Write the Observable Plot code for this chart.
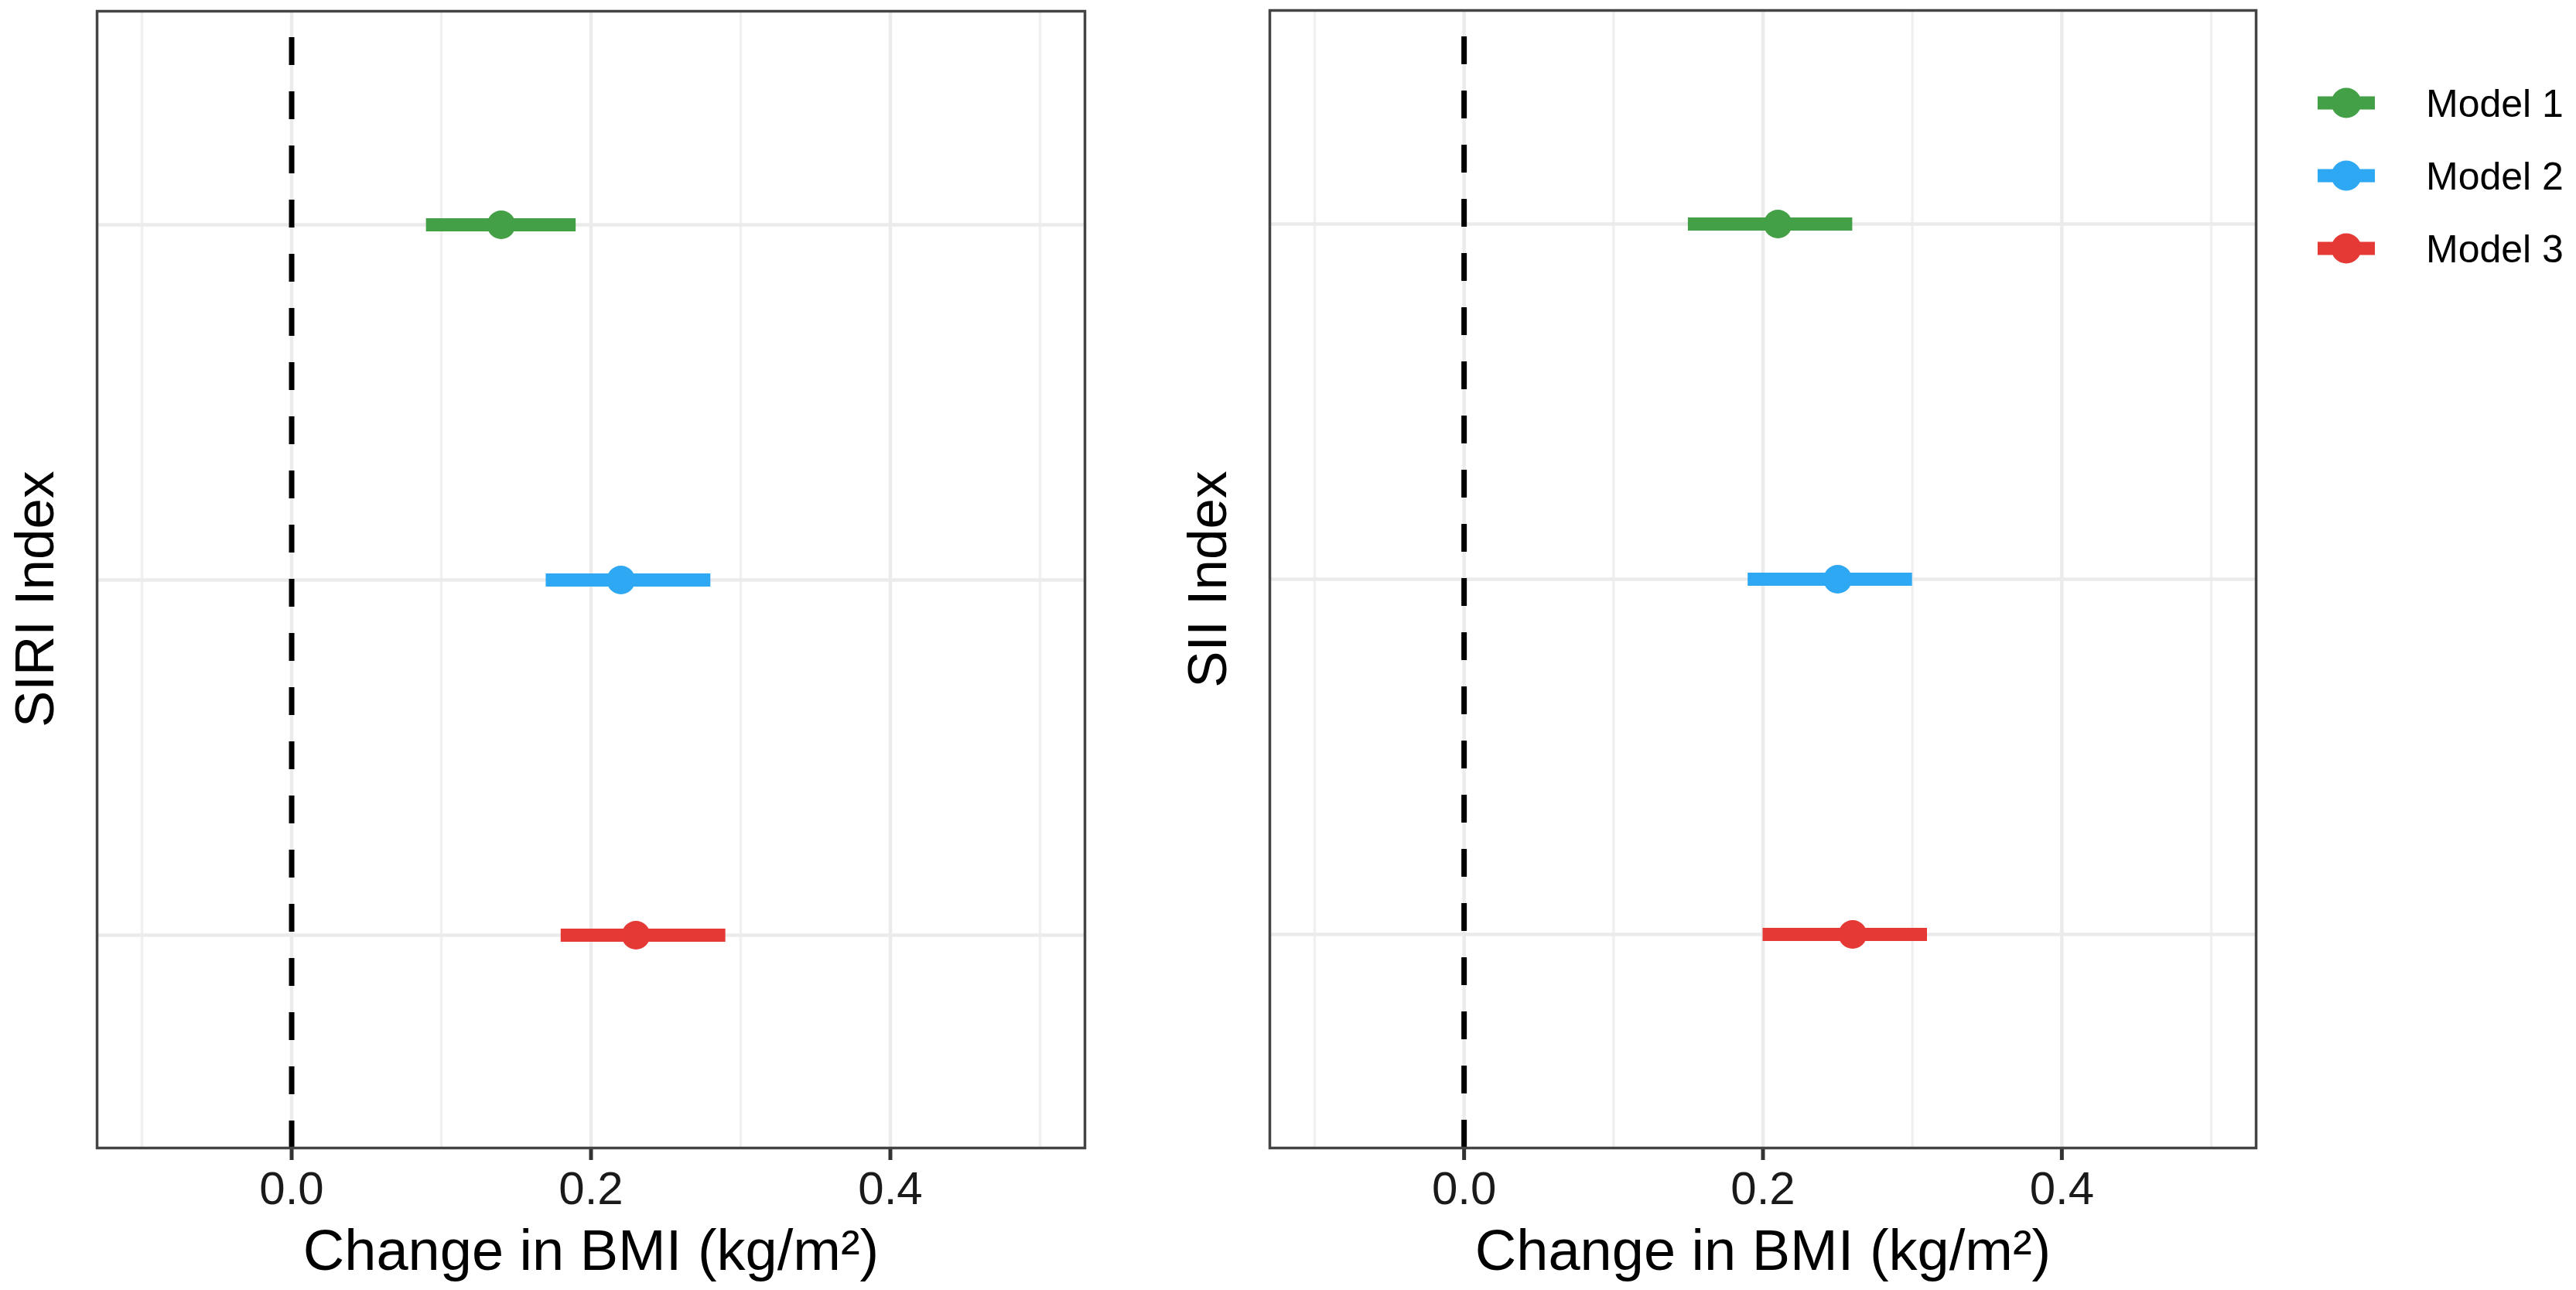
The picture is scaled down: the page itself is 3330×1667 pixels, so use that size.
<!DOCTYPE html>
<html>
<head>
<meta charset="utf-8">
<script src="https://cdn.jsdelivr.net/npm/d3@7"></script>
<script src="https://cdn.jsdelivr.net/npm/@observablehq/plot@0.6"></script>
<style>
html, body { margin: 0; padding: 0; background: #fff; }
#root { position: relative; width: 3330px; height: 1667px; overflow: hidden; background: #fff;
  font-family: "Liberation Sans", Arial, Helvetica, sans-serif; }
.panel { position: absolute; top: 0; }
#legend { position: absolute; left: 2950px; top: 80px; }
</style>
</head>
<body>
<div id="root"></div>
<script>
// ---- data ----
const models = ["Model 1", "Model 2", "Model 3"];
const colors = ["#43A047", "#2FA8F4", "#E53935"];
const siriEst = [0.14, 0.22, 0.23];
const siriLo  = [0.09, 0.17, 0.18];
const siriHi  = [0.19, 0.28, 0.29];
const siiEst  = [0.21, 0.25, 0.26];
const siiLo   = [0.15, 0.19, 0.20];
const siiHi   = [0.26, 0.30, 0.31];
const xTicks = [0, 0.2, 0.4];
const xMinor = [-0.1, 0.1, 0.3, 0.5];
const xDomain = [-0.13, 0.53];
const xTitle = "Change in BMI (kg/m²)";
const yTitles = ["SIRI Index", "SII Index"];

const FONT = '"Liberation Sans", Arial, Helvetica, sans-serif';
const root = document.getElementById("root");

function panel(est, lo, hi, yTitle, cfg) {
  const data = models.map((m, i) => ({model: m, est: est[i], lo: lo[i], hi: hi[i]}));
  const p = Plot.plot({
    width: cfg.width,
    height: 1667,
    marginLeft: cfg.marginLeft,
    marginRight: cfg.marginRight,
    marginTop: cfg.marginTop,
    marginBottom: 184,
    style: {fontFamily: FONT, fontSize: "60px", color: "#1a1a1a", background: "white", overflow: "visible"},
    x: {domain: xDomain, ticks: xTicks, tickFormat: d3.format(".1f"), tickSize: 16, tickPadding: 14, label: null},
    y: {type: "point", domain: models, padding: 0.6, axis: null},
    color: {type: "ordinal", domain: models, range: colors},
    marks: [
      Plot.ruleX(xMinor, {x: d => d, stroke: "#f0f0f0", strokeWidth: 3.5}),
      Plot.ruleX(xTicks, {x: d => d, stroke: "#ebebeb", strokeWidth: 4.5}),
      Plot.ruleY(models, {y: d => d, stroke: "#ebebeb", strokeWidth: 4.5}),
      Plot.ruleX([0], {x: d => d, stroke: "#000", strokeWidth: 7, strokeDasharray: "36,34", strokeDashoffset: 36}),
      Plot.ruleY(data, {y: "model", x1: "lo", x2: "hi", stroke: "model", strokeWidth: 17}),
      Plot.dot(data, {x: "est", y: "model", r: 18.5, fill: "model"}),
      Plot.frame({stroke: "#444", strokeWidth: 3.5}),
      Plot.text([xTitle], {text: d => d, frameAnchor: "bottom", dy: 157, lineAnchor: "bottom", textAnchor: "middle", fontSize: 74, fill: "#000"}),
      Plot.text([yTitle], {text: d => d, frameAnchor: "top-left", dx: -57, dy: 608 - cfg.marginTop, rotate: -90, lineAnchor: "bottom", textAnchor: "end", fontSize: 71, fill: "#000"})
    ]
  });
  p.querySelectorAll('g[aria-label^="x-axis"]').forEach(g => {
    g.setAttribute("stroke-width", 5);
    if (g.getAttribute("stroke")) g.setAttribute("stroke", "#333");
  });
  const wrap = document.createElement("div");
  wrap.className = "panel";
  wrap.style.left = cfg.left + "px";
  wrap.appendChild(p);
  root.appendChild(wrap);
}

panel(siriEst, siriLo, siriHi, yTitles[0], {left: 0, width: 1500, marginLeft: 125, marginRight: 98, marginTop: 14});
panel(siiEst, siiLo, siiHi, yTitles[1], {left: 1500, width: 1440, marginLeft: 141, marginRight: 24, marginTop: 13});

// ---- legend ----
const legendY = d3.scalePoint().domain(models).range([53, 241]);
const leg = d3.create("svg").attr("width", 380).attr("height", 320)
  .style("font-family", FONT);
const row = leg.selectAll("g").data(models).join("g")
  .attr("transform", d => `translate(0,${legendY(d)})`);
row.append("line").attr("x1", 46).attr("x2", 120).attr("y1", 0).attr("y2", 0)
  .attr("stroke", (d, i) => colors[i]).attr("stroke-width", 17);
row.append("circle").attr("cx", 83).attr("cy", 0).attr("r", 19.5)
  .attr("fill", (d, i) => colors[i]);
row.append("text").attr("x", 186).attr("y", 0).attr("dy", "0.36em")
  .attr("font-size", 50).attr("fill", "#000").text(d => d);
const legDiv = document.createElement("div");
legDiv.id = "legend";
legDiv.appendChild(leg.node());
root.appendChild(legDiv);
</script>
</body>
</html>
